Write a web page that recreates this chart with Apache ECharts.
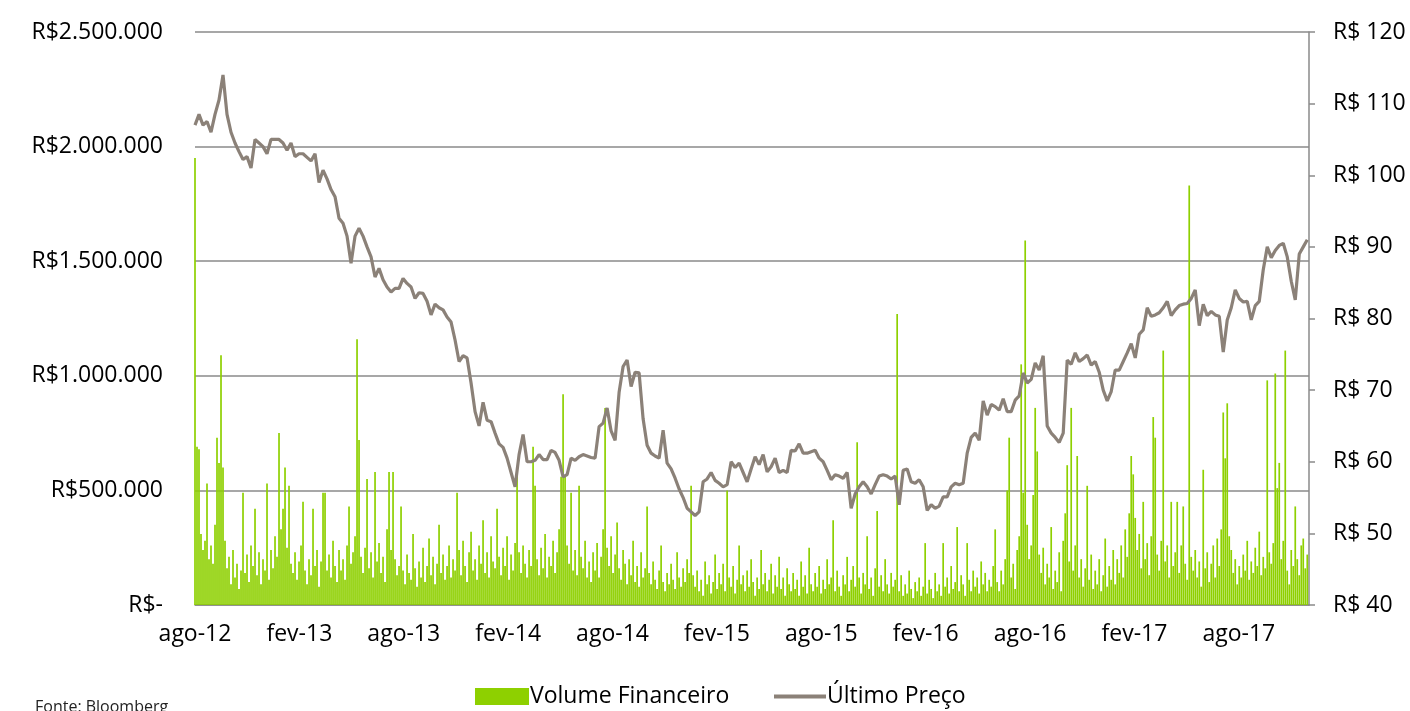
<!DOCTYPE html>
<html>
<head>
<meta charset="utf-8">
<script src="https://cdn.jsdelivr.net/npm/echarts@6/dist/echarts.min.js"></script>
<style>
html,body{margin:0;padding:0;background:#fff;}
#chart{width:1410px;height:711px;}
</style>
</head>
<body>
<div id="chart"></div>
<script>
// ---- DATA ----
// Month names for x-axis labels (axis starts at ago-12)
const monthNames = ['jan','fev','mar','abr','mai','jun','jul','ago','set','out','nov','dez'];
const startMonthIndex = 7;   // agosto
const startYear = 12;        // 2012
const labelStepMonths = 6;

// Weekly closing price (R$), first week of Aug 2012 onward
const priceValues = [
107,108.5,107,107.5,106,108.5,110.5,114,108.5,106,
104.5,103.3,102.2,102.6,101,105,104.5,104,103,105,
105,105,104.5,103.5,104.5,102.6,103,103,102.5,102,
103,99,100.7,99.5,98,97,94,93.3,91.5,87.7,
91.5,92.6,91.5,90,88.6,85.8,87,85.4,84.4,83.7,
84.2,84.2,85.6,84.9,84.4,82.8,83.6,83.5,82.4,80.5,
82,81.5,81.2,80.2,79.5,77,74,74.8,74.5,71,
67,65,68.3,65.8,65.6,64,62.5,62,60.5,58.5,
56.5,61,63.8,60,60,60.2,61,60.3,60.3,61.6,
61.3,60.2,57.9,58.2,60.5,60.2,60.7,61,60.8,60.6,
60.5,64.9,65.4,67.5,64.3,63,69.7,73.3,74.2,70.5,
72.5,72.4,66,62.3,61.2,60.8,60.5,64.4,59.8,59,
57.7,56.2,55,53.5,53,52.5,53,57.2,57.6,58.5,
57.4,57,56.5,56.8,60,59.2,59.8,58.5,57.2,59,
60.7,59.6,61,58.6,59.3,60.5,58.5,58.8,58.5,61.6,
61.5,62.5,61.2,61.2,61.4,61.6,60.5,60,58.8,57.5,
58.2,58,57.7,58.5,53.5,55.5,56.5,57.2,56.5,55.5,
56.8,58,58.2,58,57.6,58,54,58.8,59,57.2,
57,57.5,56.5,53.2,54,53.5,53.8,55.1,55.1,56.5,
57,56.8,57,61.2,63.4,64,63,68.5,66.5,68,
67.7,67.2,68.8,67,67,68.6,69.2,72.4,71,71.5,
73.8,72.8,74.8,65,64,63.4,62.7,64,74.2,73.6,
75.2,74,74.4,74.9,73.5,74,72.5,70,68.5,69.8,
72.8,72.8,74,75.2,76.5,74.5,77.8,78.4,81.5,80.3,
80.5,80.8,81.5,82.4,80.4,81.2,81.8,82,82.1,82.8,
84,79,82,80.4,81,80.5,80.3,75.3,79.8,81.5,
84,82.8,82.3,82.4,79.8,81.8,82.4,86.8,90,88.5,
89.5,90.2,90.5,88.6,85.2,82.6,89,90,91
];

// Financial volume (R$ thousands), one value per half week
const volumeThousands = [
1950,690,680,310,240,280,530,200,260,180,350,730,620,1090,600,280,160,210,90,240,120,180,70,150,490,140,220,100,260,170,420,130,230,90,200,150,530,110,240,160,300,210,750,330,420,600,250,520,180,140,
230,110,190,260,450,150,90,200,130,420,170,240,80,190,490,490,150,220,120,280,170,100,240,150,200,110,260,430,180,230,300,1160,720,210,140,250,550,160,230,120,580,190,270,140,210,100,330,580,240,580,
200,130,170,430,150,90,220,140,110,310,160,80,190,120,250,100,170,290,130,210,90,180,350,140,220,110,170,260,120,200,150,490,240,130,280,170,100,230,320,150,200,110,260,180,370,140,230,120,300,190,
160,420,210,130,250,170,300,110,220,150,270,600,230,140,260,180,120,240,170,690,520,200,130,250,160,310,120,210,170,280,140,230,330,560,920,560,260,180,490,150,240,130,520,210,160,280,120,190,100,230,
150,270,120,210,330,860,250,170,300,140,220,360,160,110,240,180,90,200,130,280,100,170,80,230,120,160,430,140,90,190,110,70,150,260,100,60,140,90,180,110,70,230,120,80,160,100,200,140,520,130,
80,150,60,110,40,190,90,130,50,100,220,70,140,90,180,60,500,120,80,170,50,110,260,90,130,60,150,80,200,100,40,120,70,240,90,140,60,110,180,50,130,80,210,70,120,40,160,90,60,140,
70,110,40,190,80,130,50,250,90,60,140,80,170,50,110,70,200,90,120,370,60,150,80,40,130,90,210,60,110,170,80,710,120,50,140,90,300,70,120,40,160,410,80,130,60,200,90,50,140,80,
110,1270,60,130,40,90,50,150,70,30,100,60,120,40,80,270,50,110,70,30,140,60,90,40,270,80,120,50,170,70,100,340,60,130,90,40,270,110,60,150,80,120,50,190,90,140,60,110,80,170,
330,100,60,150,90,200,500,730,120,180,70,240,300,1050,490,1590,350,200,260,480,860,670,220,140,250,90,180,120,340,70,150,100,230,60,280,400,610,190,860,150,260,650,120,200,80,160,520,110,220,70,
150,90,200,60,130,290,80,170,110,240,90,200,140,260,120,330,210,400,650,570,380,240,310,160,450,200,270,130,300,820,730,220,150,280,1110,190,260,120,450,170,230,450,140,260,430,180,110,1830,210,150,
240,120,190,80,590,160,230,100,180,260,120,290,170,330,840,640,880,300,240,140,200,90,170,120,220,150,280,110,190,140,250,170,320,130,210,160,980,230,180,270,1010,510,620,200,280,1110,150,90,240,170,430,200,130,260,290,160,220
];

// Axis scales
const volumeMax = 2500, volumeStep = 500;      // R$ thousands
const priceMin = 40, priceMax = 120, priceStep = 10;

// ---- BUILD ----
const WEEK = 7 / 30.4375;      // months per week
const HALF_WEEK = WEEK / 2;
const priceData = priceValues.map((p, i) => [i * WEEK, p]);
const volumeData = volumeThousands.map((v, j) => [j * HALF_WEEK, v]);
const xMax = priceData[priceData.length - 1][0] + 0.1;

function dotThousands(n) {
  return String(Math.round(n)).replace(/\B(?=(\d{3})+(?!\d))/g, '.');
}
function monthLabel(v) {
  if (Math.abs(v - Math.round(v)) > 1e-6 || Math.round(v) % labelStepMonths !== 0) return '';
  const idx = startMonthIndex + Math.round(v);
  return monthNames[idx % 12] + '-' + (startYear + Math.floor(idx / 12));
}

const FONT = '"Open Sans", "Liberation Sans", sans-serif';
const GRID_GRAY = '#8a8a8a';
const GREEN = '#8ED000';
const BROWN = '#8B8178';

const chart = echarts.init(document.getElementById('chart'), null, {renderer: 'canvas'});
chart.setOption({
  animation: false,
  backgroundColor: '#ffffff',
  textStyle: {fontFamily: FONT},
  grid: {left: 195, right: 101, top: 32, bottom: 106, containLabel: false},
  xAxis: {
    type: 'value', min: 0, max: xMax, interval: labelStepMonths,
    axisLine: {show: true, lineStyle: {color: GRID_GRAY, width: 1.5}},
    axisTick: {show: false},
    splitLine: {show: false},
    axisLabel: {formatter: monthLabel, showMaxLabel: false, color: '#000', fontSize: 23, fontFamily: FONT, margin: 18}
  },
  yAxis: [
    {
      type: 'value', min: 0, max: volumeMax, interval: volumeStep, position: 'left',
      axisLine: {show: false}, axisTick: {show: false},
      splitLine: {show: true, lineStyle: {color: GRID_GRAY, width: 1.5}},
      axisLabel: {
        formatter: v => v === 0 ? 'R$-' : 'R$' + dotThousands(v * 1000),
        color: '#000', fontSize: 23, fontFamily: FONT, margin: 32
      }
    },
    {
      type: 'value', min: priceMin, max: priceMax, interval: priceStep, position: 'right',
      axisLine: {show: true, lineStyle: {color: GRID_GRAY, width: 1.5}},
      axisTick: {show: true, inside: false, length: 6, lineStyle: {color: GRID_GRAY, width: 1.5}},
      splitLine: {show: false},
      axisLabel: {formatter: v => 'R$ ' + v, color: '#000', fontSize: 23, fontFamily: FONT, margin: 24}
    }
  ],
  legend: [
    {
      data: [{name: 'Volume Financeiro', icon: 'rect'}],
      left: 470, top: 680, itemWidth: 54, itemHeight: 17, itemGap: 0,
      textStyle: {color: '#000', fontSize: 23, fontFamily: FONT, padding: [0, 0, 0, -4]}
    },
    {
      data: [{name: 'Último Preço', icon: 'rect'}],
      left: 769, top: 680, itemWidth: 52, itemHeight: 4, itemGap: 0,
      textStyle: {color: '#000', fontSize: 23, fontFamily: FONT, padding: [0, 0, 0, -4]}
    }
  ],
  graphic: [
    {type: 'text', left: 35, top: 699, style: {text: 'Fonte: Bloomberg', fill: '#222', font: '16px ' + FONT}}
  ],
  series: [
    {
      name: 'Volume Financeiro', type: 'bar', yAxisIndex: 0,
      data: volumeData, barWidth: 1.7,
      itemStyle: {color: GREEN}, z: 2
    },
    {
      name: 'Último Preço', type: 'line', yAxisIndex: 1,
      data: priceData, showSymbol: false, symbol: 'none',
      lineStyle: {color: BROWN, width: 3.2}, itemStyle: {color: BROWN}, z: 3
    }
  ]
});
</script>
</body>
</html>
